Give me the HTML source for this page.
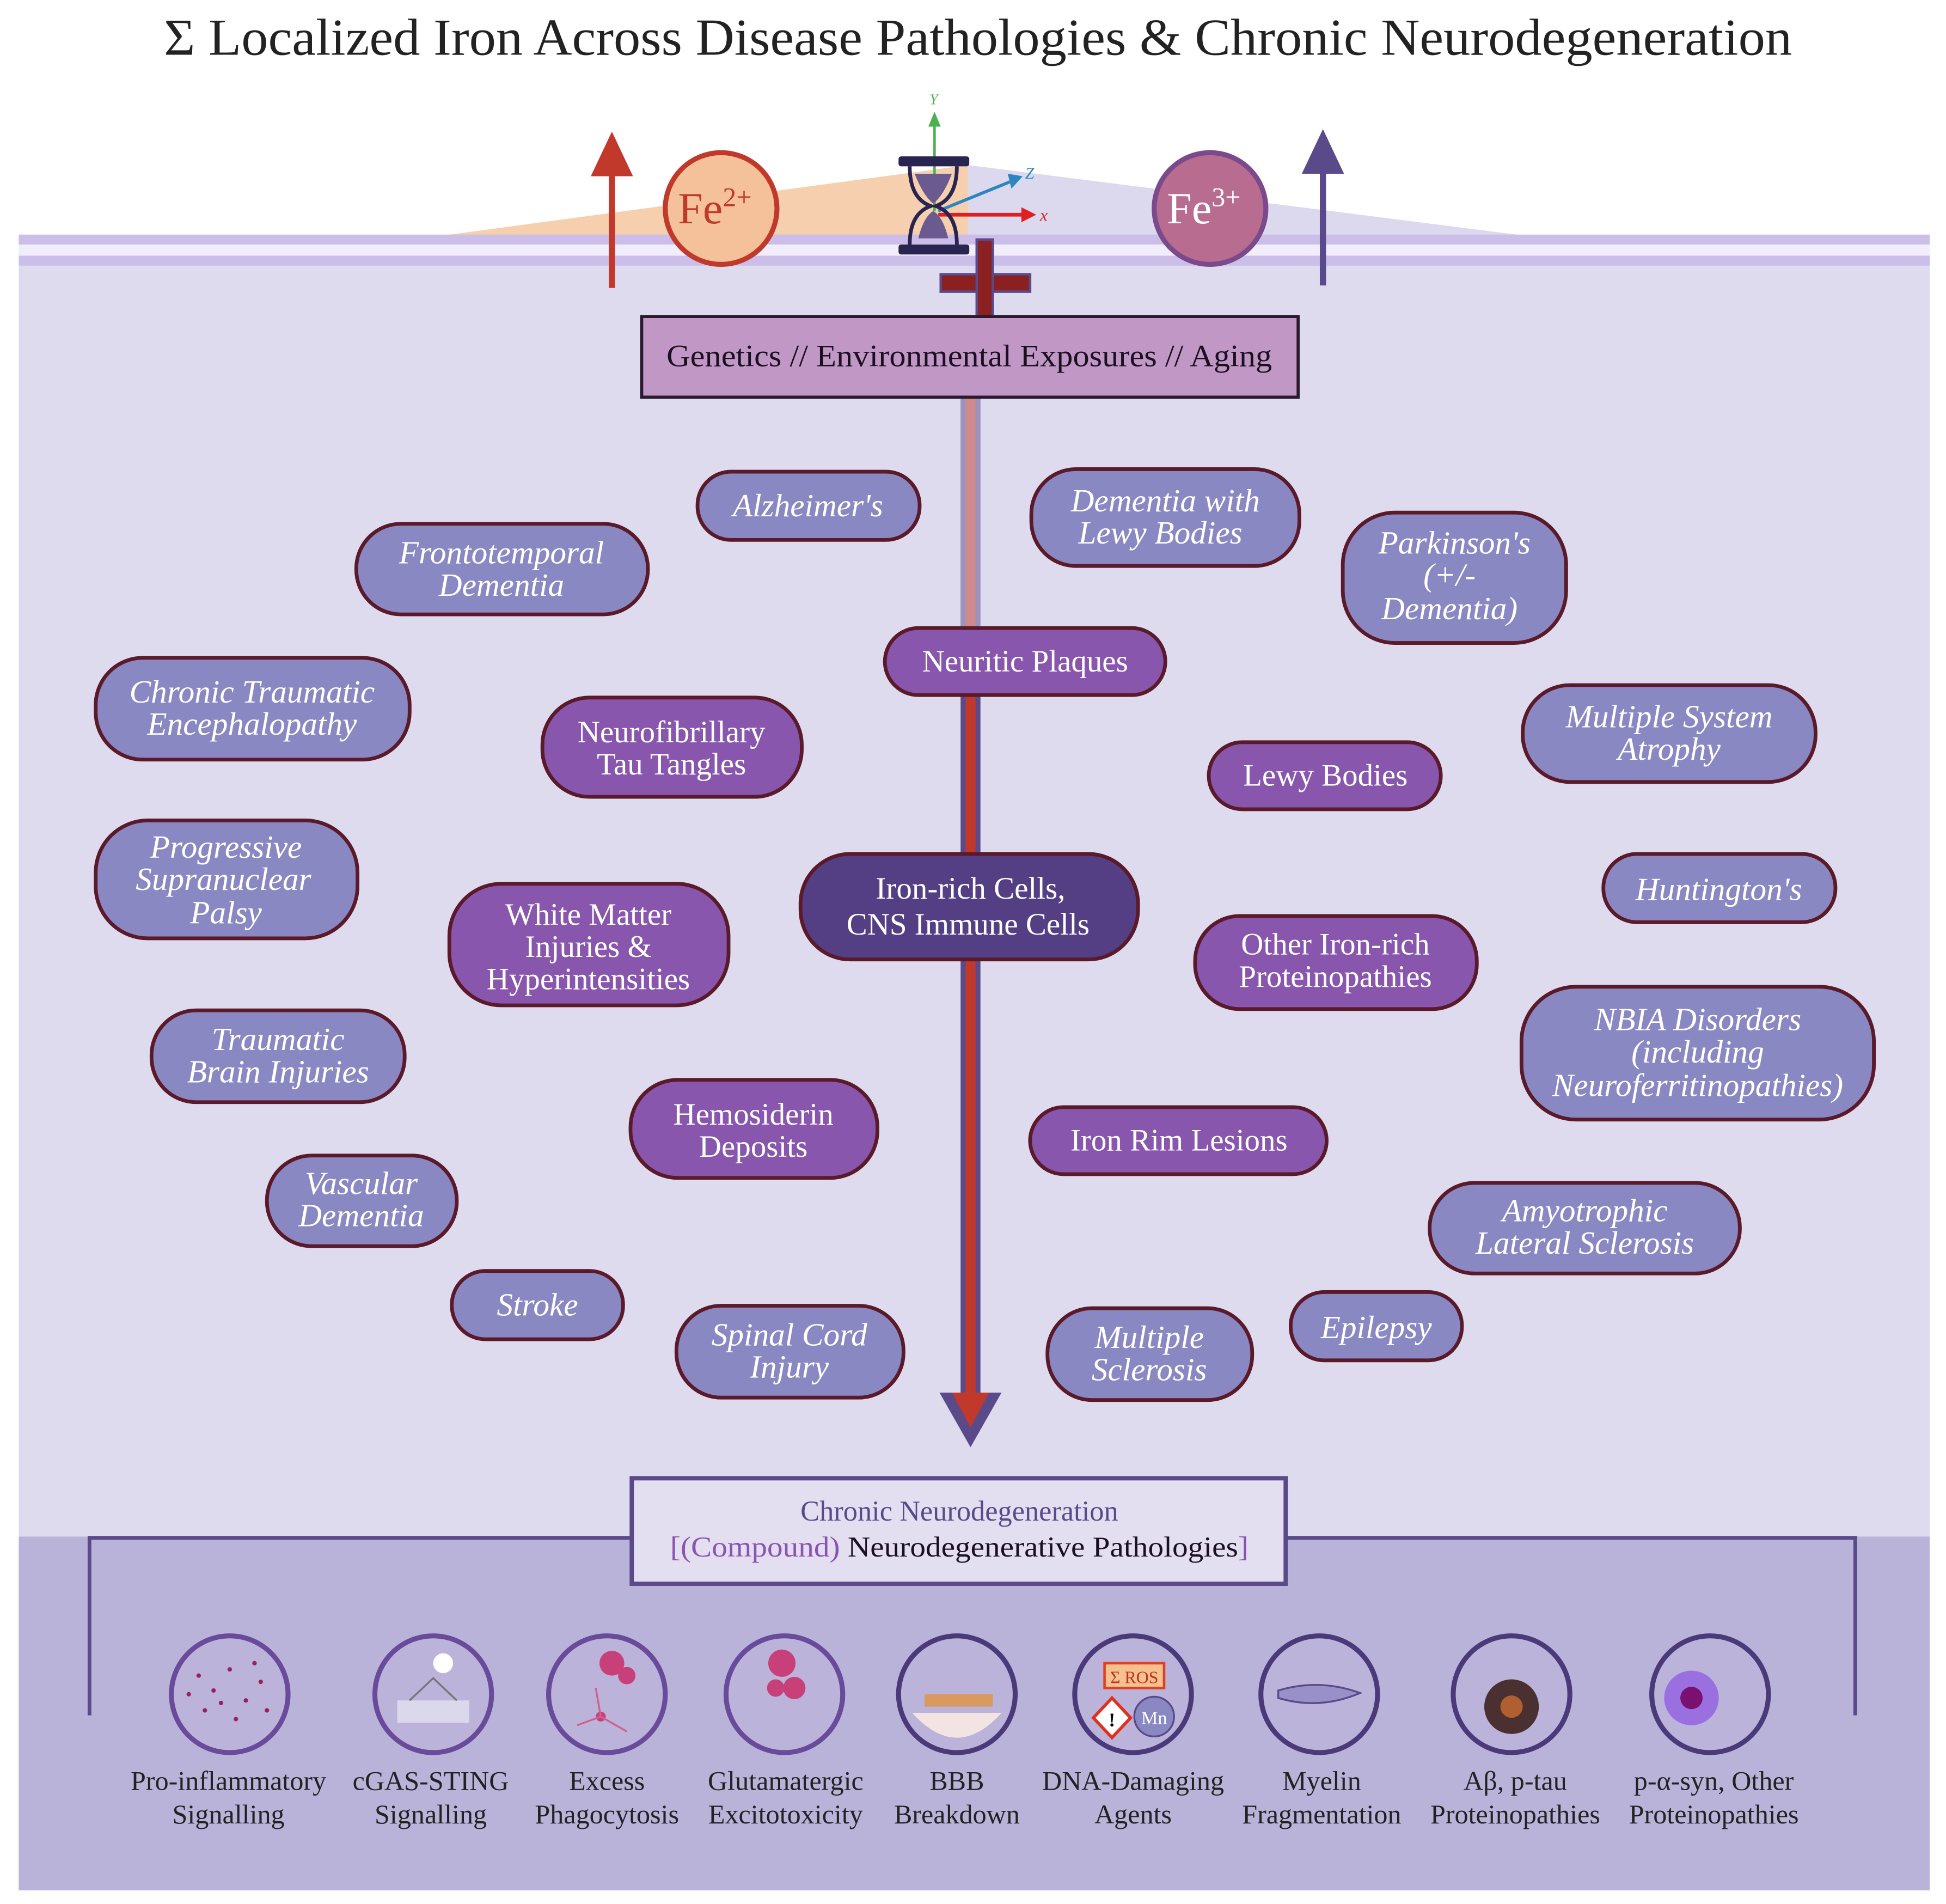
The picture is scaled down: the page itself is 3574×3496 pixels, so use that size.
<!DOCTYPE html>
<html><head><meta charset="utf-8"><style>html,body{margin:0;padding:0;background:#fff}svg{display:block}</style></head>
<body>
<svg xmlns="http://www.w3.org/2000/svg" width="3574" height="3496" viewBox="0 0 1568 1534" font-family="'Liberation Serif', serif">
<rect width="1568" height="1534" fill="#fff"/>
<text x="788" y="44" font-size="42" text-anchor="middle" fill="#222" textLength="1312" lengthAdjust="spacingAndGlyphs">Σ Localized Iron Across Disease Pathologies &amp; Chronic Neurodegeneration</text>
<rect x="15" y="190" width="1540" height="1333" fill="#dedbef"/>
<rect x="15" y="1238" width="1540" height="285" fill="#b9b3d9"/>
<polygon points="355,190 780,133 780,190" fill="#f5cfae"/>
<polygon points="780,133 1230,190 780,190" fill="#dcd8ee"/>
<rect x="15" y="189" width="1540" height="8" fill="#cbbfe9"/>
<rect x="15" y="197" width="1540" height="9" fill="#f1edfb"/>
<rect x="15" y="206" width="1540" height="8" fill="#cbbfe9"/>
<line x1="493" y1="232" x2="493" y2="140" stroke="#c0392b" stroke-width="5"/>
<polygon points="476,142 493,106 510,142" fill="#c0392b"/>
<line x1="1066" y1="230" x2="1066" y2="138" stroke="#5a4a8a" stroke-width="5"/>
<polygon points="1049,140 1066,104 1083,140" fill="#5a4a8a"/>
<circle cx="581" cy="168" r="45" fill="#f4c19a" stroke="#c0392b" stroke-width="4"/>
<text x="576" y="180" font-size="36" text-anchor="middle" fill="#c0392b">Fe<tspan font-size="22" dy="-14">2+</tspan></text>
<circle cx="975" cy="168" r="45" fill="#b86c90" stroke="#7a4a8a" stroke-width="4"/>
<text x="970" y="180" font-size="36" text-anchor="middle" fill="#fff">Fe<tspan font-size="22" dy="-14">3+</tspan></text>
<line x1="753" y1="170" x2="753" y2="100" stroke="#4caf50" stroke-width="2"/>
<polygon points="748,102 753,90 758,102" fill="#4caf50"/>
<text x="749" y="84" font-size="12" font-style="italic" fill="#4caf50">Y</text>
<line x1="756" y1="170" x2="815" y2="146" stroke="#2e86c1" stroke-width="2.5"/>
<polygon points="812,140 824,142 815,152" fill="#2e86c1"/>
<text x="826" y="144" font-size="13" font-style="italic" fill="#2e86c1">Z</text>
<line x1="756" y1="173" x2="825" y2="173" stroke="#e02020" stroke-width="3"/>
<polygon points="823,167 835,173 823,179" fill="#e02020"/>
<text x="838" y="178" font-size="14" font-style="italic" fill="#e02020">x</text>
<rect x="724" y="126" width="57" height="8" rx="2" fill="#2a2550"/>
<rect x="724" y="197" width="57" height="8" rx="2" fill="#2a2550"/>
<path d="M733,134 Q733,160 750,166 Q733,172 733,197 M771,134 Q771,160 754,166 Q771,172 771,197" fill="none" stroke="#2a2550" stroke-width="3"/>
<path d="M737,140 L767,140 Q760,158 752,164 Q744,158 737,140Z M740,192 Q744,175 752,170 Q760,175 764,192Z" fill="#6a5a90"/>
<rect x="758" y="221" width="72" height="14" fill="#8b2020" stroke="#5a4a8a" stroke-width="2"/>
<rect x="787" y="193" width="13" height="70" fill="#8b2020" stroke="#5a4a8a" stroke-width="2"/>
<rect x="774" y="320" width="16" height="810" fill="#5a4a8a"/>
<rect x="778" y="320" width="8" height="810" fill="#c0392b"/>
<rect x="774" y="320" width="16" height="200" fill="#dedbef" opacity="0.5"/>
<polygon points="757,1122 807,1122 782,1166" fill="#5a4a8a"/>
<polygon points="767,1122 797,1122 782,1150" fill="#c0392b"/>
<rect x="517" y="255" width="529" height="65" fill="#c197c6" stroke="#2a1a30" stroke-width="2.5"/>
<text x="781" y="295" font-size="25" text-anchor="middle" fill="#1a1020" textLength="488" lengthAdjust="spacingAndGlyphs">Genetics // Environmental Exposures // Aging</text>
<path d="M72,1382 V1239 H510 M1036,1239 H1495 V1382" fill="none" stroke="#5a4a8a" stroke-width="3"/>
<rect x="509" y="1191" width="527" height="85" fill="#e3dff1" stroke="#5a4a8a" stroke-width="3.5"/>
<text x="773" y="1225" font-size="23" text-anchor="middle" fill="#5a4a8a">Chronic Neurodegeneration</text>
<text x="773" y="1254" font-size="23" text-anchor="middle" fill="#1a1020" textLength="466" lengthAdjust="spacingAndGlyphs"><tspan fill="#8a55b0">[(Compound)</tspan> Neurodegenerative Pathologies<tspan fill="#8a55b0">]</tspan></text>

<g stroke="#5a1a2a" stroke-width="3">
<g fill="#8a88c2">
<rect x="562" y="380" width="179" height="55" rx="27"/>
<rect x="831" y="378" width="216" height="78" rx="36"/>
<rect x="287" y="422" width="235" height="73" rx="36"/>
<rect x="1082" y="413" width="180" height="105" rx="42"/>
<rect x="77" y="530" width="253" height="82" rx="38"/>
<rect x="1227" y="552" width="236" height="78" rx="38"/>
<rect x="77" y="661" width="211" height="95" rx="42"/>
<rect x="1292" y="688" width="187" height="55" rx="27"/>
<rect x="1226" y="795" width="284" height="107" rx="44"/>
<rect x="122" y="814" width="204" height="74" rx="36"/>
<rect x="215" y="931" width="153" height="73" rx="36"/>
<rect x="1152" y="953" width="250" height="73" rx="36"/>
<rect x="364" y="1024" width="138" height="55" rx="27"/>
<rect x="545" y="1052" width="183" height="74" rx="36"/>
<rect x="844" y="1054" width="165" height="74" rx="36"/>
<rect x="1040" y="1041" width="138" height="55" rx="27"/>
</g>
<g fill="#8856ad">
<rect x="713" y="506" width="226" height="54" rx="27"/>
<rect x="437" y="562" width="209" height="80" rx="38"/>
<rect x="974" y="598" width="187" height="54" rx="27"/>
<rect x="362" y="712" width="225" height="98" rx="42"/>
<rect x="963" y="738" width="227" height="75" rx="36"/>
<rect x="508" y="870" width="199" height="79" rx="38"/>
<rect x="830" y="892" width="239" height="54" rx="27"/>
</g>
<rect x="645" y="688" width="272" height="85" rx="40" fill="#553f84"/>
</g>

<g font-size="26" fill="#fff" text-anchor="middle" font-style="italic">
<text x="651" y="416">Alzheimer's</text>
<text x="939" y="412">Dementia with</text><text x="935" y="438">Lewy Bodies</text>
<text x="404" y="454">Frontotemporal</text><text x="404" y="480">Dementia</text>
<text x="1172" y="446">Parkinson's</text><text x="1168" y="472">(+/-</text><text x="1168" y="499">Dementia)</text>
<text x="203" y="566">Chronic Traumatic</text><text x="203" y="592">Encephalopathy</text>
<text x="1345" y="586">Multiple System</text><text x="1345" y="612">Atrophy</text>
<text x="182" y="691">Progressive</text><text x="180" y="717">Supranuclear</text><text x="182" y="744">Palsy</text>
<text x="1385" y="725">Huntington's</text>
<text x="1368" y="830">NBIA Disorders</text><text x="1368" y="856">(including</text><text x="1368" y="883">Neuroferritinopathies)</text>
<text x="224" y="846">Traumatic</text><text x="224" y="872">Brain Injuries</text>
<text x="291" y="962">Vascular</text><text x="291" y="988">Dementia</text>
<text x="1277" y="984">Amyotrophic</text><text x="1277" y="1010">Lateral Sclerosis</text>
<text x="433" y="1060">Stroke</text>
<text x="636" y="1084">Spinal Cord</text><text x="636" y="1110">Injury</text>
<text x="926" y="1086">Multiple</text><text x="926" y="1112">Sclerosis</text>
<text x="1109" y="1078">Epilepsy</text>
</g>
<g font-size="25" fill="#fff" text-anchor="middle">
<text x="826" y="541">Neuritic Plaques</text>
<text x="541" y="598">Neurofibrillary</text><text x="541" y="624">Tau Tangles</text>
<text x="1068" y="633">Lewy Bodies</text>
<text x="474" y="745">White Matter</text><text x="474" y="771">Injuries &amp;</text><text x="474" y="797">Hyperintensities</text>
<text x="1076" y="769">Other Iron-rich</text><text x="1076" y="795">Proteinopathies</text>
<text x="607" y="906">Hemosiderin</text><text x="607" y="932">Deposits</text>
<text x="950" y="927">Iron Rim Lesions</text>
<text x="782" y="724">Iron-rich Cells,</text><text x="780" y="753">CNS Immune Cells</text>
</g>

<g fill="#bbb3da" stroke="#6a4a9a" stroke-width="4">
<circle cx="185" cy="1365" r="47"/><circle cx="349" cy="1365" r="47"/><circle cx="489" cy="1365" r="47"/>
<circle cx="632" cy="1365" r="47"/><circle cx="771" cy="1365" r="47" stroke="#4a3a7a"/><circle cx="913" cy="1365" r="47" stroke="#4a3a7a"/>
<circle cx="1063" cy="1365" r="47" stroke="#4a3a7a"/><circle cx="1218" cy="1365" r="47" stroke="#4a3a7a"/><circle cx="1378" cy="1365" r="47" stroke="#4a3a7a"/>
</g>
<g fill="#9a2060">
<circle cx="160" cy="1350" r="1.8"/><circle cx="172" cy="1362" r="1.8"/><circle cx="185" cy="1345" r="1.8"/><circle cx="198" cy="1370" r="1.8"/><circle cx="210" cy="1355" r="1.8"/><circle cx="165" cy="1378" r="1.8"/><circle cx="190" cy="1385" r="1.8"/><circle cx="205" cy="1340" r="1.8"/><circle cx="178" cy="1372" r="1.8"/><circle cx="215" cy="1378" r="1.8"/><circle cx="152" cy="1365" r="1.8"/>
</g>
<rect x="320" y="1370" width="58" height="18" fill="#dcd8ec"/>
<circle cx="357" cy="1340" r="8" fill="#fff"/>
<path d="M330,1370 L349,1352 L368,1370" fill="none" stroke="#777" stroke-width="1.5"/>
<g fill="#c8407a"><circle cx="493" cy="1340" r="10"/><circle cx="505" cy="1350" r="7"/><circle cx="484" cy="1383" r="4"/></g>
<path d="M465,1390 L484,1383 L505,1395 M484,1383 L480,1360" stroke="#d06090" stroke-width="1.5" fill="none"/>
<g fill="#c8407a"><circle cx="630" cy="1340" r="11"/><circle cx="640" cy="1360" r="9"/><circle cx="625" cy="1360" r="7"/></g>
<path d="M735,1380 Q771,1420 807,1380Z" fill="#f3e4e4"/>
<rect x="745" y="1365" width="55" height="10" fill="#d99a60"/>
<rect x="890" y="1340" width="48" height="20" fill="#f7c08f" stroke="#e04020" stroke-width="2"/>
<text x="914" y="1356" font-size="14" text-anchor="middle" fill="#c03020">Σ ROS</text>
<polygon points="896,1368 911,1384 896,1400 881,1384" fill="#fff" stroke="#e03020" stroke-width="2.5"/>
<text x="896" y="1391" font-size="16" text-anchor="middle" font-weight="bold">!</text>
<circle cx="930" cy="1383" r="16" fill="#8a88c2" stroke="#5a4a8a" stroke-width="1.5"/>
<text x="930" y="1389" font-size="15" text-anchor="middle" fill="#fff">Mn</text>
<path d="M1030,1362 Q1063,1352 1096,1364 Q1063,1378 1030,1368Z" fill="#9a90c8" stroke="#5a4a8a" stroke-width="1.5"/>
<circle cx="1218" cy="1375" r="22" fill="#4a3030"/><circle cx="1218" cy="1375" r="9" fill="#b06030"/>
<circle cx="1363" cy="1368" r="22" fill="#9a70e0"/><circle cx="1363" cy="1368" r="9" fill="#7a1070"/>
<g font-size="22" fill="#222" text-anchor="middle">
<text x="184" y="1442">Pro-inflammatory</text><text x="184" y="1469">Signalling</text>
<text x="347" y="1442">cGAS-STING</text><text x="347" y="1469">Signalling</text>
<text x="489" y="1442">Excess</text><text x="489" y="1469">Phagocytosis</text>
<text x="633" y="1442">Glutamatergic</text><text x="633" y="1469">Excitotoxicity</text>
<text x="771" y="1442">BBB</text><text x="771" y="1469">Breakdown</text>
<text x="913" y="1442">DNA-Damaging</text><text x="913" y="1469">Agents</text>
<text x="1065" y="1442">Myelin</text><text x="1065" y="1469">Fragmentation</text>
<text x="1221" y="1442">Aβ, p-tau</text><text x="1221" y="1469">Proteinopathies</text>
<text x="1381" y="1442">p-α-syn, Other</text><text x="1381" y="1469">Proteinopathies</text>
</g>
</svg>
</body></html>
